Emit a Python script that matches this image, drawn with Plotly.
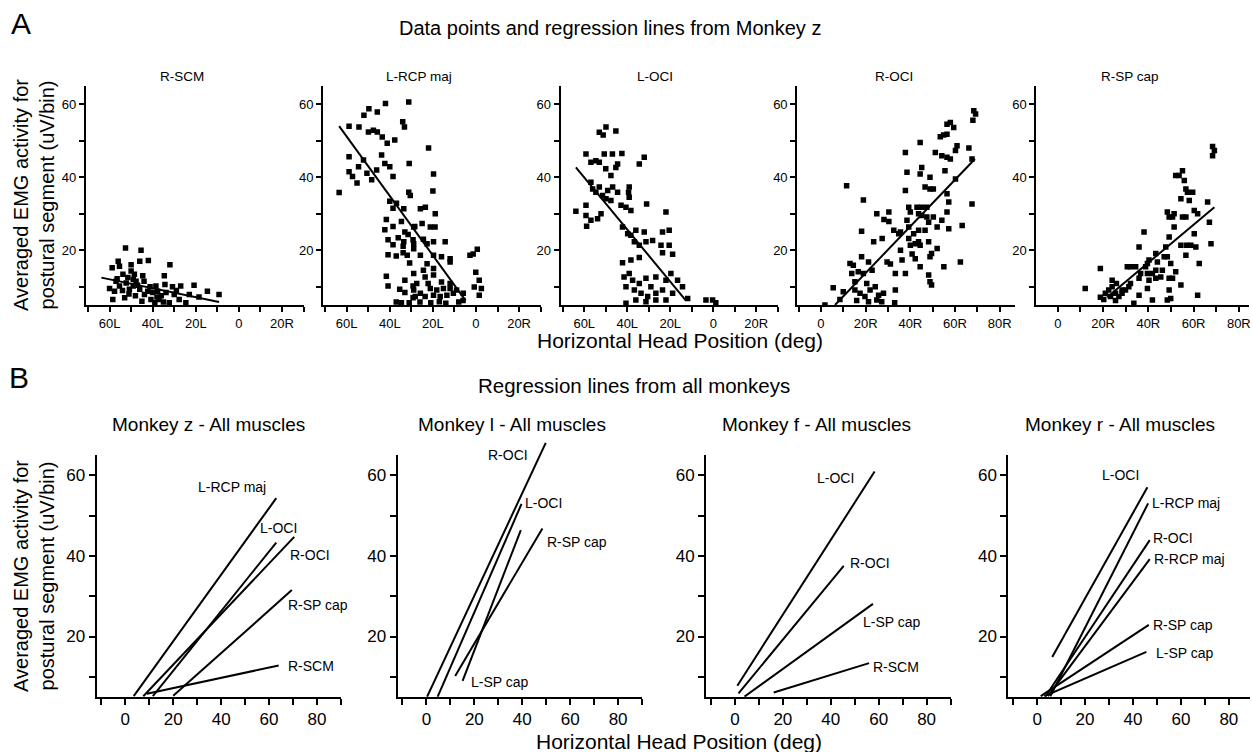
import plotly.graph_objects as go

W, H = 1252, 752
FONT = "Liberation Sans, Arial, Helvetica, sans-serif"

# ---------------- Panel A: data points (Monkey z) ----------------
a_titles = ["R-SCM", "L-RCP maj", "L-OCI", "R-OCI", "R-SP cap"]

rscm_x = [-52.6, -45.4, -56, -46, -42, -58.8, -55.4, -50, -50, -32, -44.6, -34.6, -34.3, -30.8, -27,
          -20.8, -14.6, -9.2, -18.5, -23, -24.6, -32.3, -37, -58.5, -53, -60, -57.7, -55.4, -52.3, -49,
          -47.7, -46, -43.8, -42.3, -40, -40.8, -39, -37.7, -36, -33.8, -30, -27.7, -41.2, -38.5, -50.8,
          -57, -53.8, -51.5, -48.5, -47, -54, -51, -48, -45, -44, -56.5, -49, -38, -35, -29]
rscm_y = [20.6, 20, 17, 17, 17.2, 15.2, 15.6, 16, 14.3, 16, 13, 13, 10.6, 10, 10.2,
          10.4, 8.8, 7.9, 7.2, 7.9, 5.6, 5.6, 6.5, 6.5, 7, 9.5, 8.8, 10.2, 11, 10.2,
          11.5, 9.3, 7.9, 8.8, 8.4, 6.5, 5.6, 8.8, 7.5, 8.4, 7.9, 6.5, 10, 10.2, 9.3,
          11.5, 13.4, 12.5, 13.4, 10.4, 9, 8, 7.5, 6, 11.5, 12.2, 12, 7.2, 5.8, 9]

lrcp_x = [-63.5, -58.9, -54.3, -52, -49.7, -45.8, -42, -31.2, -58.9, -58.9, -57.3, -55.2, -54.5, -52.2,
          -50.6, -49.9, -47.6, -45.8, -43.5, -41.2, -48.4, -46.1, -43.8, -42.3, -40, -38.5, -37.7, -34,
          -33.2, -31, -40, -36.9, -38.5, -41.6, -38.5, -34.6, -42.3, -40.8, -38.5, -36.1, -33.8, -31.5,
          -29.2, -28.4, -40.8, -37, -33.8, -30.8, -41.6, -40.8, -35.4, -33, -34.6, -29.2, -29.2,
          -31.2, -30.5, -22, -19.7, -20, -25.8, -23.5, -18.9, -25, -21.2, -19, -28.9, -33.5, -33,
          -33.5, -28.9, -24.4, -22.7, -19.7, -14.3, -28.9, -31.9, -25.8, -19.7, -16, -12, -12, -22.7,
          -19.7, -24.4, -28.9, -23.6, -19.7, -33, -27.5, -22.2, -16, -12, -28.9, -25.8, -21.2, -18.2,
          -15.1, -12, -9, -5.9, -28.2, -23.6, -19.7, -16.6, -13.5, -10.5, -2.8, -1.3, 0.6, -0.1, 1.5,
          2.5, -0.8, 1.5, -31, -26, -21, -17, -14, -8, -6, -37]
lrcp_y = [35.8, 54, 53.8, 57, 58.8, 57.9, 60.2, 60.6, 45.6, 41.5, 40.2, 38.4, 42.9, 44.7,
          41.1, 52.4, 52.9, 52.4, 51, 49.3, 39.3, 42, 46.1, 43.8, 42.9, 40.2, 50.2, 55.2,
          53.8, 43.8, 33.4, 32.9, 31.5, 28.4, 26.5, 27.9, 25.6, 22.9, 21.5, 23.4, 21.1, 24.3,
          22.9, 26.5, 18.8, 18.4, 19.3, 16.5, 12.9, 10.2, 9.3, 8.4, 5.6, 7, 10.2,
          35.9, 35, 48, 40.9, 36.2, 31.4, 31.8, 30, 27.3, 26.4, 26.4, 26.4, 31.4, 25,
          22.3, 21.8, 23, 21.8, 22.3, 22.3, 20.4, 18.6, 18.6, 18.6, 18.2, 17.7, 16.8, 16.3,
          15, 14.5, 13.6, 12.7, 13.2, 11.8, 10.9, 10.9, 11.3, 10.9, 9.1, 8.2, 9.5, 9.1,
          9.5, 9.5, 9.1, 8.2, 7.3, 7.3, 7.7, 7.3, 7.7, 8.2, 18.6, 19, 20.3, 14, 11.8,
          9.5, 9.9, 7.7, 5.6, 5.8, 5.6, 5.9, 5.5, 5.8, 6.2, 5.8]

loci_x = [-63.9, -59.2, -59.2, -58.9, -59.2, -56.9, -54.6, -53, -53, -51.2, -49.9, -45.3, -50.7, -46.9,
          -42.5, -45.3, -50, -47.6, -44.5, -56.9, -56.1, -54.6, -53, -51.5, -49.1, -46.8, -44.5, -42.9,
          -40.6, -38.3, -49.9, -47.6, -56.9, -53.8, -52.2, -39.1, -39.4, -39.1, -34.4, -32.1, -31,
          -42.2, -39.8, -38.3, -36, -32.1, -36.7, -34.4, -31.3, -28.2, -22, -23.6, -20.5, -24.3, -20.5,
          -23.6, -18.9, -42.2, -38.3, -34.4, -39.1, -41.5, -37.5, -40.6, -36.7, -34.4, -31.3, -29,
          -33.6, -30.5, -26.7, -23.6, -26.7, -22, -19.7, -16.6, -14.3, -18.9, -22, -26.7, -36, -31.3,
          -11.9, -3.4, -0.3, 1.2, -40.6]
loci_y = [30.7, 32.3, 29.5, 26.6, 46.4, 44.1, 44.5, 44.1, 52.3, 51.6, 53.8, 52.7, 46.4, 46.4,
          46.5, 42.7, 42.3, 40.5, 43.6, 38.6, 36.8, 35.9, 37.3, 35, 36.4, 37.3, 35.9, 32.3,
          31.8, 30.9, 34.1, 33.6, 28.2, 28.6, 30, 37.3, 35.9, 34.5, 43.6, 45.5, 32.7,
          26.4, 24.5, 24.1, 25.5, 25, 22.3, 21.4, 22.3, 22.7, 30.5, 25, 25.5, 21.4, 21.4,
          19.3, 18.9, 16.6, 17.3, 18, 13.6, 12.7, 11.8, 10, 9.1, 10.9, 12.3, 10,
          8.2, 7.3, 8.2, 9.1, 12.7, 11.8, 13.6, 11.8, 10, 8.2, 6.4, 6.4, 6.4, 5.9,
          6.8, 6.4, 6.4, 5.6, 5.5]

roci_x = [5.5, 1.8, 11.5, 19, 18.2, 8.5, 10, 13, 14.5, 13.8, 16.7, 15.2, 19, 18.2, 21.3, 23.6, 22.9,
          20.5, 22, 24.3, 25.8, 28, 15.2, 17.5, 19.7, 16, 21.3, 25, 27.2, 33, 25, 30.4, 28.2, 30.4,
          27.4, 29.6, 31.1, 33.3, 33.3, 32.6, 34.8, 35.6, 35.6, 36.3, 37.8, 37.8, 38.5, 37.8, 39.3,
          40, 38.5, 39.3, 39.3, 40, 41.5, 40.8, 42.2, 43.7, 43, 43.7, 44.4, 45.1, 44.4, 45.1, 47.4,
          45.1, 47.4, 43.7, 46.6, 44.4, 48.2, 42.2, 44.4, 46.6, 48.8, 50.3, 48.8, 48.2, 50.3, 49.5,
          48.8, 48.2, 48.8, 49.5, 52, 52, 51.2, 53.4, 54.9, 56.4, 56.4, 57.9, 54.1, 56.4, 57.9, 55.5,
          56.4, 57.2, 56.4, 54.1, 57.2, 55, 59.4, 60.2, 60.9, 60.2, 62.4, 63.2, 66.2, 67.6, 67.6,
          68.4, 69.2, 68]
roci_y = [9.7, 5, 37.7, 33.8, 25.2, 6.5, 8.6, 16.4, 15.9, 13.6, 14.1, 11.4, 13.6, 18.2, 16.8, 22.3, 14.5,
          10.9, 9.1, 10, 7.7, 8.2, 9.1, 8.2, 7.3, 6.2, 5.9, 6.4, 5.9, 5.6, 30, 30.5, 28.4, 27.9,
          23.2, 16.8, 16.2, 13.6, 9.1, 25.5, 24.5, 25, 20, 17.3, 13.6, 36.4, 41.4, 46.8, 31.8,
          30.5, 28.2, 26.4, 23.2, 21.4, 24.5, 19, 21.8, 22.3, 31.8, 30, 40.9, 42.7, 49.5, 31.8, 31.8,
          29.5, 29.1, 25.5, 25.5, 21.4, 22.3, 17.7, 15.5, 37.3, 36.8, 36.8, 40, 27.7, 29.1, 19.1,
          18.2, 13.2, 11.4, 10.5, 20.5, 26.4, 46.8, 51.1, 51.6, 51.8, 54.5, 55, 45.9, 45.5, 45, 41.8,
          35.5, 33.2, 30.5, 28.2, 25.9, 15.5, 53.6, 39.5, 48.6, 47.3, 16.8, 26.8, 48, 32.7, 45,
          58.2, 57.3, 55.6]

rsp_x = [12.1, 18.8, 18.8, 20.3, 21, 22.5, 24, 23.3, 25.5, 25.5, 27, 28.4, 28.4, 25.9, 29.9, 31.4, 32.1,
         33.6, 35.9, 30.7, 32.1, 34.4, 35.9, 36.6, 35.9, 38.1, 38.8, 39.6, 39.6, 40.3, 39.6, 40.3, 41.8,
         43.3, 43.3, 43.3, 44, 45.5, 46.2, 47, 48.4, 47.7, 49.2, 48.4, 49.9, 49.2, 50.7, 49.2, 49.9,
         48.4, 41.8, 49.2, 50.7, 51.4, 51.4, 52.1, 52.1, 53.6, 55.1, 55.9, 56.6, 57.3, 59.6, 54.4,
         58.1, 55.1, 56.6, 54.4, 57, 58.8, 60.3, 61.8, 60.3, 61, 56.6, 54.4, 62.5, 61.8, 66.2, 67,
         67.7, 68.4, 69.2, 68.4, 24]
rsp_y = [9.5, 15, 7.1, 6.5, 8.2, 9.1, 10, 7.3, 8.2, 6.2, 7.3, 8.2, 9.1, 10.9, 9.1, 10, 10.9,
         5.5, 7.7, 15.5, 15.5, 15.5, 12.3, 13.6, 20.9, 25, 15.5, 13.6, 16.4, 11.8, 9.5, 17.3, 13.6,
         14.5, 12.3, 19.1, 16.8, 12.7, 14.5, 18.2, 30.5, 20.9, 23.6, 18.2, 16.4, 12.3, 12.3, 9.1, 6.8,
         6.4, 6.4, 29.1, 29.1, 26.4, 30, 14.1, 40.5, 40.5, 41.8, 39.1, 36.8, 35.9, 35.9, 34.1,
         33.6, 29.1, 29.1, 21.4, 21.4, 21.4, 30.9, 30, 24.5, 20.9, 18.6, 10.5, 16.4, 7.7, 33.2, 27.7,
         21.8, 48.4, 47.3, 45.9, 11.8]

a_pts_x = [rscm_x, lrcp_x, loci_x, roci_x, rsp_x]
a_pts_y = [rscm_y, lrcp_y, loci_y, roci_y, rsp_y]

# regression lines of panel A (start / end)
a_reg_x0 = [-63.8, -63.5, -63.9, 6.3, 21.8]
a_reg_y0 = [12.5, 54.0, 42.7, 5.0, 7.1]
a_reg_x1 = [-9.2, -4.8, -12.7, 68.9, 69.2]
a_reg_y1 = [5.8, 6.2, 6.2, 45.0, 31.8]

# ---------------- Panel B: regression lines from all monkeys ----------------
b_titles = ["Monkey z - All muscles", "Monkey l - All muscles",
            "Monkey f - All muscles", "Monkey r - All muscles"]

z_names = ["L-RCP maj", "L-OCI", "R-OCI", "R-SP cap", "R-SCM"]
z_x0 = [3.5, 11.5, 7.5, 20.0, 9.0]
z_y0 = [5.2, 5.2, 5.2, 5.3, 5.8]
z_x1 = [63.0, 63.0, 70.5, 69.5, 64.0]
z_y1 = [54.3, 43.3, 44.7, 31.5, 12.8]
z_lab = ["L-RCP maj", "L-OCI", "R-OCI", "R-SP cap", "R-SCM"]
z_lx = [29.5, 55.2, 67.7, 67.0, 67.0]
z_ly = [57.1, 46.8, 40.2, 27.8, 12.8]

l_names = ["R-OCI", "L-OCI", "L-SP cap", "R-SP cap"]
l_x0 = [0.3, 4.7, 15.1, 12.0]
l_y0 = [5.1, 5.1, 9.0, 10.2]
l_x1 = [49.8, 39.7, 39.4, 48.4]
l_y1 = [68.0, 52.9, 46.4, 46.8]
l_lab = ["R-OCI", "L-OCI", "R-SP cap", "L-SP cap"]
l_lx = [24.8, 40.4, 49.5, 17.9]
l_ly = [65.0, 53.0, 43.5, 8.6]

f_names = ["L-OCI", "R-OCI", "L-SP cap", "R-SCM"]
f_x0 = [1.0, 1.5, 4.0, 16.2]
f_y0 = [7.8, 5.9, 5.1, 6.1]
f_x1 = [58.3, 45.4, 57.6, 56.0]
f_y1 = [60.9, 37.5, 28.1, 13.4]
f_lab = ["L-OCI", "R-OCI", "L-SP cap", "R-SCM"]
f_lx = [33.6, 47.2, 52.8, 56.6]
f_ly = [59.2, 38.2, 23.7, 12.4]

r_names = ["L-OCI", "L-RCP maj", "R-OCI", "R-RCP maj", "R-SP cap", "L-SP cap"]
r_x0 = [6.3, 5.5, 3.5, 4.5, 1.5, 3.0]
r_y0 = [14.9, 5.2, 5.2, 5.2, 5.2, 5.2]
r_x1 = [46.0, 46.3, 47.0, 47.0, 46.6, 45.6]
r_y1 = [57.0, 53.0, 43.9, 39.2, 22.9, 16.2]
r_lab = ["L-OCI", "L-RCP maj", "R-OCI", "R-RCP maj", "R-SP cap", "L-SP cap"]
r_lx = [26.2, 47.3, 47.7, 48.1, 47.7, 48.8]
r_ly = [60.0, 53.2, 44.5, 39.1, 22.9, 15.8]

b_sets = [
    (z_names, z_x0, z_y0, z_x1, z_y1, z_lab, z_lx, z_ly),
    (l_names, l_x0, l_y0, l_x1, l_y1, l_lab, l_lx, l_ly),
    (f_names, f_x0, f_y0, f_x1, f_y1, f_lab, f_lx, f_ly),
    (r_names, r_x0, r_y0, r_x1, r_y1, r_lab, r_lx, r_ly),
]

# tick labels
a_left_vals = [-70, -60, -50, -40, -30, -20, -10, 0, 10, 20, 30]
a_left_text = ["", "60L", "", "40L", "", "20L", "", "0", "", "20R", ""]
a_right_vals = [-10, 0, 10, 20, 30, 40, 50, 60, 70, 80]
a_right_text = ["", "0", "", "20R", "", "40R", "", "60R", "", "80R"]
b_x_vals = [-10, 0, 10, 20, 30, 40, 50, 60, 70, 80, 90]
b_x_text = ["", "0", "", "20", "", "40", "", "60", "", "80", ""]
y_vals = [10, 20, 30, 40, 50, 60]
y_text = ["", "20", "", "40", "", "60"]

# ---------------- layout geometry (pixels) ----------------
a_left = [86, 323.5, 561.5, 798.5, 1038]
a_right = [304, 541.5, 779, 1017, 1251]
a_xrange = [[-71, 30], [-71, 30], [-71, 30], [-10.6, 87], [-9.5, 84.5]]
a_top, a_bot = 86, 305
b_left = [96.7, 398.3, 707.3, 1010]
b_width = [245, 245, 245, 242]
b_top, b_bot = 455, 697
b_pxu = 2.40
y_range = [5, 65]


def px(xp):
    return xp / W


def py(yp):
    return 1 - yp / H


fig = go.Figure()
layout = {}

axis_common = dict(showline=True, linecolor="black", linewidth=2, ticks="outside",
                   tickcolor="black", tickwidth=1.5, showgrid=False, zeroline=False,
                   fixedrange=True, ticklabeloverflow="allow")

# Row A
for i in range(5):
    n = i + 1
    xa = "xaxis" if n == 1 else f"xaxis{n}"
    ya = "yaxis" if n == 1 else f"yaxis{n}"
    xr = "x" if n == 1 else f"x{n}"
    yr = "y" if n == 1 else f"y{n}"
    if i < 3:
        tv, tt = a_left_vals, a_left_text
    else:
        tv, tt = a_right_vals, a_right_text
    layout[xa] = dict(axis_common, domain=[px(a_left[i]), px(a_right[i])], range=a_xrange[i],
                      anchor=yr, tickvals=tv, ticktext=tt, ticklen=5,
                      tickfont=dict(family=FONT, size=13, color="black"))
    layout[ya] = dict(axis_common, domain=[py(a_bot), py(a_top)], range=y_range, anchor=xr,
                      tickvals=y_vals, ticktext=y_text, ticklen=5,
                      tickfont=dict(family=FONT, size=13, color="black"))
    fig.add_trace(go.Scatter(x=a_pts_x[i], y=a_pts_y[i], mode="markers", xaxis=xr, yaxis=yr,
                             marker=dict(symbol="square", size=5.5, color="black"),
                             showlegend=False, hoverinfo="skip"))
    fig.add_trace(go.Scatter(x=[a_reg_x0[i], a_reg_x1[i]], y=[a_reg_y0[i], a_reg_y1[i]],
                             mode="lines", xaxis=xr, yaxis=yr,
                             line=dict(color="black", width=2), showlegend=False, hoverinfo="skip"))

# Row B
annotations = []
for j in range(4):
    n = 6 + j
    xr, yr = f"x{n}", f"y{n}"
    xmin = -12
    xmax = xmin + b_width[j] / b_pxu
    layout[f"xaxis{n}"] = dict(axis_common, domain=[px(b_left[j]), px(b_left[j] + b_width[j])],
                               range=[xmin, xmax], anchor=yr, tickvals=b_x_vals, ticktext=b_x_text,
                               ticklen=6, tickfont=dict(family=FONT, size=17, color="black"))
    layout[f"yaxis{n}"] = dict(axis_common, domain=[py(b_bot), py(b_top)], range=y_range, anchor=xr,
                               tickvals=y_vals, ticktext=y_text, ticklen=6,
                               tickfont=dict(family=FONT, size=17, color="black"))
    names, x0, y0, x1, y1, lab, lx, ly = b_sets[j]
    lxr, lyr = xr, yr
    if j == 1:
        # helper axes with identical scale but taller domain so the steep line can pass the top
        top_px = 430
        layout["xaxis10"] = dict(domain=[px(b_left[j]), px(b_left[j] + b_width[j])],
                                 range=[xmin, xmax], anchor="y10", visible=False, fixedrange=True)
        layout["yaxis10"] = dict(domain=[py(b_bot), py(top_px)],
                                 range=[5, 5 + (b_bot - top_px) * 60 / (b_bot - b_top)],
                                 anchor="x10", visible=False, fixedrange=True)
        lxr, lyr = "x10", "y10"
    for k in range(len(names)):
        fig.add_trace(go.Scatter(x=[x0[k], x1[k]], y=[y0[k], y1[k]], mode="lines",
                                 xaxis=lxr, yaxis=lyr, name=names[k],
                                 line=dict(color="black", width=2), showlegend=False,
                                 hoverinfo="skip"))
    for k in range(len(lab)):
        annotations.append(dict(text=lab[k], x=lx[k], y=ly[k], xref=xr, yref=yr,
                                xanchor="left", yanchor="middle", showarrow=False,
                                font=dict(family=FONT, size=14, color="black")))

# ---------------- texts ----------------
def paper_ann(text, x, y, size, xanchor="center", yanchor="middle", angle=0):
    annotations.append(dict(text=text, x=px(x), y=py(y), xref="paper", yref="paper",
                            xanchor=xanchor, yanchor=yanchor, showarrow=False, textangle=angle,
                            font=dict(family=FONT, size=size, color="black")))

paper_ann("A", 9, 23, 30, xanchor="left")
paper_ann("B", 7, 377, 30, xanchor="left")
paper_ann("Data points and regression lines from Monkey z", 398, 28, 20, xanchor="left")
paper_ann("Regression lines from all monkeys", 477, 385, 20.5, xanchor="left")

a_title_cx = [182, 420, 656, 895, 1132]
for i, t in enumerate(a_titles):
    paper_ann(t, a_title_cx[i], 77, 13.5)

b_title_cx = [209, 512.5, 818, 1121.7]
for j, t in enumerate(b_titles):
    paper_ann(t, b_title_cx[j], 424, 19)

ytitle = "Averaged EMG activity for<br>postural segment (uV/bin)"
paper_ann(ytitle, 34, 195, 20, angle=-90)
paper_ann(ytitle, 34, 576, 20, angle=-90)
xtitle = "Horizontal Head Position (deg)"
paper_ann(xtitle, 681, 340, 21)
paper_ann(xtitle, 680, 741, 21)

fig.update_layout(
    width=W, height=H,
    margin=dict(l=0, r=0, t=0, b=0),
    paper_bgcolor="white",
    plot_bgcolor="rgba(0,0,0,0)",
    font=dict(family=FONT, color="black"),
    annotations=annotations,
    showlegend=False,
    **layout,
)

fig.write_html("out.html", config={"displayModeBar": False})
